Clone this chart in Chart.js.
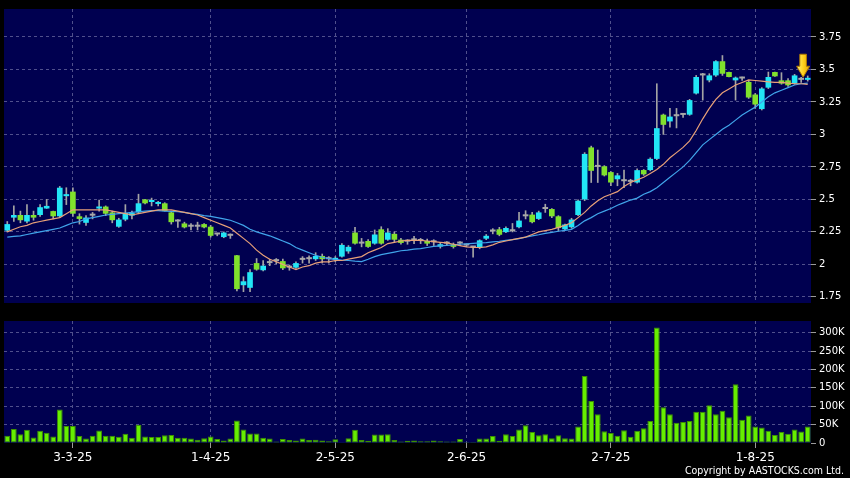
<!DOCTYPE html>
<html><head><meta charset="utf-8">
<script src="https://cdn.jsdelivr.net/npm/chart.js@4"></script>
<style>
html,body{margin:0;padding:0;background:#000;}
#wrap{position:relative;width:850px;height:478px;background:#000;overflow:hidden;}
#c1{position:absolute;left:0;top:0;}
#c2{position:absolute;left:0;top:312px;}
#copy{position:absolute;right:6px;top:464px;color:#fff;font-family:"DejaVu Sans Condensed","DejaVu Sans",sans-serif;font-stretch:condensed;font-size:10.5px;line-height:13px;white-space:nowrap;}
</style></head><body>
<div id="wrap">
<canvas id="c1" width="850" height="312"></canvas>
<canvas id="c2" width="850" height="166"></canvas>
<div id="copy">Copyright by AASTOCKS.com Ltd.</div>
</div>
<script>
// ---------- data ----------
const dates = [
'17-2-25','18-2-25','19-2-25','20-2-25','21-2-25','24-2-25','25-2-25','26-2-25','27-2-25','28-2-25',
'3-3-25','4-3-25','5-3-25','6-3-25','7-3-25','10-3-25','11-3-25','12-3-25','13-3-25','14-3-25',
'17-3-25','18-3-25','19-3-25','20-3-25','21-3-25','24-3-25','25-3-25','26-3-25','27-3-25','28-3-25','31-3-25',
'1-4-25','2-4-25','3-4-25','7-4-25','8-4-25','9-4-25','10-4-25','11-4-25','14-4-25','15-4-25','16-4-25','17-4-25',
'22-4-25','23-4-25','24-4-25','25-4-25','28-4-25','29-4-25','30-4-25',
'2-5-25','6-5-25','7-5-25','8-5-25','9-5-25','12-5-25','13-5-25','14-5-25','15-5-25','16-5-25',
'19-5-25','20-5-25','21-5-25','22-5-25','23-5-25','26-5-25','27-5-25','28-5-25','29-5-25','30-5-25',
'2-6-25','3-6-25','4-6-25','5-6-25','6-6-25','9-6-25','10-6-25','11-6-25','12-6-25','13-6-25',
'16-6-25','17-6-25','18-6-25','19-6-25','20-6-25','23-6-25','24-6-25','25-6-25','26-6-25','27-6-25','30-6-25','1-7-25',
'2-7-25','3-7-25','4-7-25','7-7-25','8-7-25','9-7-25','10-7-25','11-7-25','14-7-25','15-7-25','16-7-25','17-7-25','18-7-25',
'21-7-25','22-7-25','23-7-25','24-7-25','25-7-25','28-7-25','29-7-25','30-7-25','31-7-25',
'1-8-25','4-8-25','5-8-25','6-8-25','7-8-25','8-8-25','11-8-25','12-8-25','13-8-25'];

const opens = [2.26,2.36,2.38,2.33,2.38,2.38,2.43,2.41,2.37,2.525,
2.56,2.37,2.32,2.375,2.43,2.445,2.40,2.29,2.345,2.375,
2.40,2.50,2.48,2.465,2.47,2.40,2.33,2.315,2.29,2.29,2.31,
2.29,2.23,2.21,2.22,2.07,1.84,1.82,2.01,1.955,2.01,2.025,2.025,
1.975,1.975,2.035,2.04,2.04,2.065,2.04,
2.035,2.06,2.10,2.245,2.16,2.18,2.16,2.27,2.19,2.235,
2.19,2.175,2.185,2.18,2.18,2.17,2.137,2.16,2.155,2.16,
2.145,2.13,2.127,2.198,2.253,2.27,2.248,2.255,2.286,2.37,
2.383,2.35,2.426,2.426,2.37,2.27,2.286,2.38,2.50,2.90,2.75,2.755,
2.71,2.655,2.64,2.635,2.63,2.726,2.726,2.812,3.152,3.10,3.14,3.15,3.152,
3.315,3.454,3.416,3.454,3.563,3.48,3.416,3.43,3.404,
3.307,3.195,3.36,3.48,3.416,3.416,3.391,3.42,3.42];
const highs = [2.33,2.45,2.41,2.46,2.41,2.46,2.50,2.41,2.60,2.59,
2.59,2.39,2.375,2.40,2.495,2.45,2.41,2.355,2.46,2.41,
2.54,2.50,2.51,2.485,2.475,2.41,2.345,2.325,2.315,2.325,2.315,
2.30,2.24,2.25,2.235,2.07,1.905,1.96,2.045,2.03,2.04,2.045,2.04,
1.995,2.02,2.06,2.065,2.09,2.08,2.06,
2.06,2.16,2.145,2.286,2.20,2.19,2.265,2.29,2.275,2.25,
2.20,2.19,2.215,2.20,2.195,2.19,2.17,2.175,2.165,2.175,
2.155,2.135,2.19,2.23,2.275,2.285,2.29,2.315,2.40,2.413,
2.40,2.41,2.463,2.43,2.375,2.31,2.355,2.497,2.86,2.91,2.88,2.76,
2.715,2.70,2.725,2.655,2.735,2.73,2.82,3.39,3.157,3.20,3.20,3.16,3.27,
3.454,3.47,3.467,3.569,3.607,3.48,3.442,3.442,3.416,
3.315,3.36,3.48,3.48,3.475,3.43,3.462,3.44,3.45];
const lows = [2.25,2.33,2.32,2.32,2.34,2.37,2.43,2.35,2.36,2.46,
2.37,2.31,2.30,2.35,2.41,2.375,2.32,2.285,2.335,2.35,
2.39,2.465,2.45,2.45,2.41,2.31,2.285,2.28,2.265,2.265,2.28,
2.21,2.22,2.205,2.20,1.795,1.79,1.79,1.955,1.95,1.99,2.005,1.96,
1.955,1.97,2.01,2.01,2.03,2.01,2.01,
2.02,2.055,2.085,2.155,2.135,2.13,2.155,2.155,2.185,2.175,
2.155,2.155,2.16,2.16,2.145,2.145,2.125,2.145,2.125,2.145,
2.135,2.055,2.12,2.19,2.235,2.22,2.245,2.25,2.28,2.35,
2.32,2.345,2.40,2.36,2.26,2.265,2.278,2.375,2.49,2.63,2.63,2.68,
2.605,2.605,2.59,2.605,2.625,2.685,2.72,2.806,3.0,3.055,3.05,3.13,3.147,
3.31,3.264,3.404,3.447,3.454,3.442,3.264,3.416,3.277,
3.20,3.188,3.353,3.447,3.386,3.37,3.386,3.40,3.41];
const closes = [2.31,2.38,2.34,2.38,2.36,2.44,2.45,2.37,2.59,2.535,
2.39,2.35,2.36,2.375,2.445,2.39,2.34,2.345,2.395,2.395,
2.47,2.47,2.495,2.48,2.41,2.325,2.33,2.285,2.29,2.29,2.285,
2.22,2.23,2.245,2.22,1.81,1.87,1.94,1.96,1.99,2.01,2.025,1.97,
1.975,2.01,2.035,2.04,2.065,2.04,2.04,
2.045,2.15,2.135,2.16,2.16,2.135,2.23,2.16,2.245,2.19,
2.165,2.175,2.185,2.18,2.16,2.17,2.155,2.16,2.135,2.16,
2.145,2.13,2.185,2.22,2.253,2.228,2.28,2.255,2.337,2.37,
2.325,2.40,2.426,2.37,2.28,2.307,2.345,2.49,2.85,2.72,2.75,2.685,
2.63,2.685,2.64,2.635,2.725,2.693,2.812,3.048,3.074,3.137,3.14,3.15,3.264,
3.442,3.454,3.454,3.563,3.467,3.442,3.437,3.43,3.284,
3.23,3.353,3.442,3.447,3.391,3.378,3.454,3.42,3.43];

const ma10 = [2.25,2.27,2.29,2.30,2.32,2.33,2.34,2.35,2.36,2.39,
2.42,2.42,2.42,2.42,2.42,2.42,2.41,2.40,2.39,2.38,
2.39,2.40,2.41,2.42,2.42,2.42,2.41,2.40,2.39,2.38,2.36,
2.34,2.32,2.30,2.28,2.24,2.20,2.16,2.11,2.07,2.04,2.02,2.00,
1.98,1.96,1.98,1.99,2.01,2.02,2.02,
2.03,2.03,2.04,2.05,2.06,2.09,2.11,2.13,2.16,2.17,
2.18,2.185,2.185,2.185,2.18,2.175,2.17,2.165,2.155,2.145,
2.135,2.13,2.13,2.135,2.15,2.17,2.18,2.19,2.20,2.21,
2.23,2.25,2.26,2.27,2.285,2.30,2.32,2.36,2.40,2.45,2.49,2.52,
2.54,2.56,2.60,2.63,2.65,2.67,2.70,2.73,2.77,2.82,2.86,2.90,2.95,
3.03,3.12,3.20,3.27,3.32,3.35,3.38,3.40,3.42,
3.415,3.41,3.405,3.40,3.40,3.395,3.39,3.39,3.385];
const ma20 = [2.21,2.215,2.22,2.23,2.24,2.25,2.26,2.27,2.28,2.30,
2.32,2.33,2.35,2.36,2.37,2.38,2.385,2.39,2.395,2.40,
2.405,2.41,2.413,2.413,2.41,2.408,2.405,2.40,2.39,2.385,2.375,
2.37,2.36,2.35,2.34,2.32,2.30,2.27,2.25,2.235,2.22,2.20,2.18,
2.16,2.13,2.11,2.09,2.07,2.055,2.045,
2.038,2.033,2.03,2.025,2.022,2.04,2.06,2.075,2.085,2.095,
2.105,2.11,2.118,2.122,2.13,2.138,2.142,2.147,2.15,2.155,
2.158,2.162,2.165,2.168,2.173,2.178,2.185,2.19,2.198,2.21,
2.22,2.228,2.238,2.246,2.255,2.262,2.27,2.30,2.335,2.36,2.39,2.41,
2.43,2.455,2.475,2.495,2.51,2.54,2.56,2.59,2.63,2.67,2.71,2.75,2.80,
2.86,2.92,2.96,3.00,3.04,3.07,3.11,3.15,3.18,
3.21,3.25,3.29,3.32,3.34,3.36,3.38,3.39,3.395];

// volume in thousands
const volumes = [20,38,24,36,15,33,28,18,91,46,
46,19,12,20,34,20,20,17,25,14,
50,18,16,16,21,22,14,14,12,9,13,
18,11,7,12,61,37,26,26,14,12,4,11,
8,7,12,8,9,7,5,
10,1,13,36,8,6,23,23,24,8,
4,6,7,5,5,7,5,4,4,11,
3,3,12,12,19,6,24,19,37,48,
30,21,24,13,21,13,12,45,182,114,78,32,
27,20,35,17,33,40,60,314,97,78,55,57,60,
85,85,103,78,88,70,160,63,75,
45,42,33,22,30,25,37,31,45];

const tickIdx = [10,31,50,70,92,114];
const tickLabels = ['3-3-25','1-4-25','2-5-25','2-6-25','2-7-25','1-8-25'];
const priceTicks = [1.75,2,2.25,2.5,2.75,3,3.25,3.5,3.75];
const volTicks = [0,50,100,150,200,250,300];
const arrowMark = {index:121.3, value:3.44};

// ---------- styles ----------
const NAVY = '#000050';
const GRID = '#50508c';
const TICKC = '#9a9a9a';
const UP = '#22E6F6';
const DOWN = '#80E22C';
const FLAT = '#a8a8a8';

const bgPlugin = {id:'bg', beforeDraw(c){const a=c.chartArea,ctx=c.ctx;ctx.save();ctx.fillStyle=NAVY;ctx.fillRect(a.left,a.top,a.right-a.left,a.bottom-a.top);ctx.restore();}};
const arrowPlugin = {id:'arrow', afterDatasetsDraw(c){
  const ctx=c.ctx; const x=c.scales.x.getPixelForValue(arrowMark.index); const y=c.scales.y.getPixelForValue(arrowMark.value);
  ctx.save(); ctx.beginPath();
  ctx.moveTo(x,y); ctx.lineTo(x-6.5,y-11); ctx.lineTo(x-3.3,y-11); ctx.lineTo(x-3.3,y-23); ctx.lineTo(x+3.3,y-23); ctx.lineTo(x+3.3,y-11); ctx.lineTo(x+6.5,y-11); ctx.closePath();
  const g=ctx.createLinearGradient(x-6,0,x+6,0); g.addColorStop(0,'#FFF07A'); g.addColorStop(0.5,'#FFD21E'); g.addColorStop(1,'#E8A800');
  ctx.fillStyle=g; ctx.fill(); ctx.lineWidth=1; ctx.strokeStyle='#B07A00'; ctx.stroke(); ctx.restore();
}};

const xGridColor = ctx => tickIdx.includes(ctx.index) ? GRID : 'rgba(0,0,0,0)';

const bodies = opens.map((o,i)=>[o,closes[i]]);
const wicks = lows.map((l,i)=>[l,highs[i]]);
const candleColor = ctx => { const i=ctx.dataIndex; return closes[i]>opens[i]?UP:(closes[i]<opens[i]?DOWN:FLAT); };

new Chart(document.getElementById('c1'), {
  type:'bar',
  data:{labels:dates, datasets:[
    {type:'line', data:ma10, borderColor:'#E8A078', borderWidth:1.2, pointRadius:0, tension:0, order:0},
    {type:'line', data:ma20, borderColor:'#40A4EA', borderWidth:1.2, pointRadius:0, tension:0, order:0},
    {type:'bar', data:bodies, backgroundColor:candleColor, borderWidth:0, minBarLength:2, barPercentage:0.86, categoryPercentage:1, grouped:false, order:1},
    {type:'bar', data:wicks, backgroundColor:'#a4a4a4', barThickness:1, grouped:false, order:2}
  ]},
  options:{
    responsive:false, animation:false,
    layout:{padding:{left:4,top:8,right:0,bottom:7}},
    plugins:{legend:{display:false}, tooltip:{enabled:false}},
    scales:{
      x:{type:'category', offset:true, afterFit:s=>{s.height=0;},
         ticks:{display:false, autoSkip:false},
         grid:{color:xGridColor, drawTicks:false, offset:false, lineWidth:1},
         border:{display:false, dash:[3,3]}},
      y:{position:'right', min:1.703, max:3.965,
         afterBuildTicks:s=>{s.ticks=priceTicks.map(v=>({value:v}));},
         afterFit:s=>{s.width=39;},
         ticks:{color:'#fff', font:{family:'DejaVu Sans', size:10}, padding:3, callback:v=>String(v)},
         grid:{color:GRID, tickColor:TICKC, tickLength:5, drawTicks:true},
         border:{display:false, dash:[3,3]}}
    }
  },
  plugins:[bgPlugin, arrowPlugin]
});

new Chart(document.getElementById('c2'), {
  type:'bar',
  data:{labels:dates, datasets:[
    {data:volumes, backgroundColor:'#66EE00', borderColor:'#3E9000', borderWidth:1, borderSkipped:false, barPercentage:0.88, categoryPercentage:1}
  ]},
  options:{
    responsive:false, animation:false,
    layout:{padding:{left:4,top:7,right:0,bottom:0}},
    plugins:{legend:{display:false}, tooltip:{enabled:false}},
    scales:{
      x:{type:'category', offset:true, afterFit:s=>{s.height=35;},
         ticks:{autoSkip:false, maxRotation:0, minRotation:0, color:'#fff', padding:3, font:{family:'DejaVu Sans', size:12},
                callback:(v,i)=>{const k=tickIdx.indexOf(i); return k>=0?tickLabels[k]:'';}},
         grid:{color:xGridColor, tickColor:ctx=>tickIdx.includes(ctx.index)?TICKC:'rgba(0,0,0,0)', drawTicks:true, tickLength:5, offset:false},
         border:{display:false, dash:[3,3]}},
      y:{position:'right', min:0, max:332,
         afterBuildTicks:s=>{s.ticks=volTicks.map(v=>({value:v}));},
         afterFit:s=>{s.width=39;},
         ticks:{color:'#fff', font:{family:'DejaVu Sans', size:10}, padding:3, callback:v=>v===0?'0':v+'K'},
         grid:{color:ctx=>ctx.tick&&ctx.tick.value===0?'rgba(0,0,0,0)':GRID, tickColor:TICKC, tickLength:5},
         border:{display:false, dash:[3,3]}}
    }
  },
  plugins:[bgPlugin]
});
</script>
</body></html>
